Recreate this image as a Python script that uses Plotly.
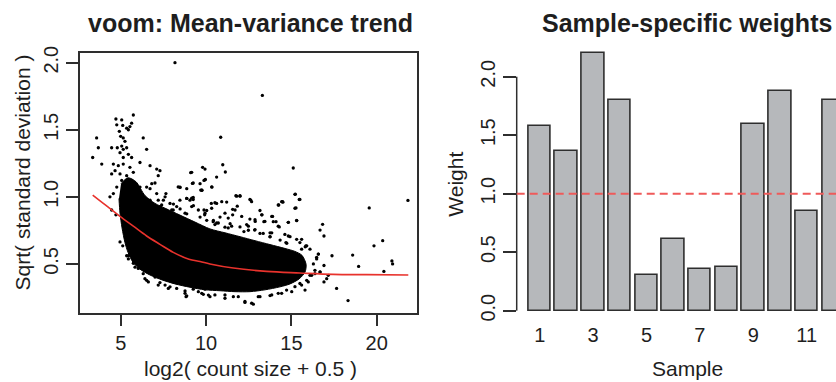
import plotly.graph_objects as go

# ---------------- Left panel: voom mean-variance trend ----------------
# outline of the fully dense part of the point cloud
cloud_x = [5.02, 5.43, 5.90, 6.42, 7.01, 7.60, 8.47, 9.35, 10.23, 11.11, 11.99, 12.87,
           13.75, 14.63, 15.21, 15.62, 15.86, 15.80, 15.45, 14.92, 14.33, 13.46, 12.57,
           11.70, 10.82, 9.94, 9.06, 8.18, 7.42, 6.72, 6.13, 5.72, 5.43, 5.25, 5.08,
           4.96, 4.90]
cloud_y = [1.098, 1.142, 1.112, 1.010, 0.951, 0.915, 0.864, 0.812, 0.761, 0.732, 0.703,
           0.673, 0.644, 0.615, 0.593, 0.564, 0.498, 0.439, 0.388, 0.351, 0.329, 0.307,
           0.293, 0.293, 0.300, 0.307, 0.326, 0.351, 0.381, 0.417, 0.461, 0.512, 0.586,
           0.659, 0.768, 0.878, 0.988]

# individual (sparse) genes
gene_x = [8.18, 13.3, 10.86, 15.11, 21.83, 19.56, 15.23, 15.46, 14.5, 15.27, 15.31, 14.82,
          14.26, 14.49, 12.62, 11.75, 11.99, 11.83, 11.56, 10.31, 10.62, 11.21, 9.88, 11.56,
          13.16, 13.28, 13.9, 13.39, 13.94, 14.1, 12.57, 12.38, 12.88, 14.29, 16.83, 16.68,
          16.91, 20.35, 19.84, 15.81, 14.68, 13.75, 13.75, 12.85, 13.35, 12.22, 11.11, 11.3,
          10.04, 10.42, 10.62, 9.92, 9.80, 10.98, 11.13, 10.62, 9.96, 10.35, 9.76,
          17.38, 18.59, 18.94, 20.89, 20.93, 20.42, 17.65, 18.32, 16.58, 16.48, 16.91, 16.68,
          17.07, 16.91, 17.16,
          4.72, 5.06, 5.74, 4.77, 5.12, 5.35, 5.54, 5.45, 5.64, 4.92, 5.15, 5.0, 5.25, 5.06,
          4.8, 5.15, 5.35, 4.96, 5.45, 5.15, 5.64, 4.57, 4.86, 5.15, 5.54, 4.67, 4.96, 5.35,
          5.74, 5.06, 5.35, 5.64, 4.77, 4.47, 4.47, 6.32, 6.52, 3.59, 3.69, 3.36, 3.89, 6.13,
          6.72, 7.3, 7.11, 7.2, 4.57, 4.37, 6.13, 6.52, 6.82, 7.65, 8.47, 9.16, 9.94, 9.65,
          9.88, 8.87, 9.06, 9.25,
          4.47, 4.72, 4.96, 5.12, 5.35, 5.45, 5.74, 6.03, 6.32, 6.52, 7.01, 7.30, 7.60, 7.89,
          8.28, 8.77, 8.83, 9.25, 9.55, 9.94, 10.14,
          9.84, 10.23, 11.11, 11.6, 12.28, 12.77, 13.16, 13.75, 14.23, 14.72, 15.21, 15.5,
          15.9, 16.09, 16.38, 16.68, 16.29, 16.48, 16.58, 16.09, 15.85, 15.5, 15.31, 14.92,
          14.62, 15.8,
          7.11, 7.5, 7.89, 8.28, 6.72, 6.32, 7.3, 8.08, 8.47,
          7.7, 8.09, 8.48, 8.87, 9.26, 9.65, 10.04, 10.43, 10.82, 11.41, 11.99, 12.48, 13.16,
          13.75, 14.34, 14.73,
          8.48, 9.2, 9.16, 9.69, 9.1,
          # halo above the dense cloud
          8.37, 8.87, 9.25, 9.94, 10.33, 9.75, 7.01, 6.72, 7.60, 8.87, 9.25, 10.52, 10.92,
          11.80, 11.99, 12.57, 12.67, 14.23, 14.43, 15.21, 15.50, 15.21, 14.82, 15.31, 13.85,
          14.23, 13.26, 13.45, 12.87, 12.48, 12.09, 11.70, 11.30, 11.11, 10.72, 10.33, 9.94,
          9.55, 9.16, 8.77, 8.37, 7.99, 7.79, 7.40, 7.20, 7.01, 10.52, 11.50, 12.87, 13.85,
          14.82, 15.6, 15.9, 15.6,
          # halo below the dense cloud
          5.45, 5.84, 6.42, 6.62, 7.20, 7.79, 8.77, 8.87, 9.75, 10.52, 11.11, 11.89, 12.28,
          12.67, 13.06, 13.85, 14.43, 15.02, 15.6, 15.99, 16.19, 16.38]
gene_y = [2.0, 1.756, 1.444, 1.215, 0.973, 0.917, 1.02, 0.98, 0.96, 0.917, 0.825, 0.81,
          0.939, 0.964, 0.976, 1.008, 1.008, 0.93, 0.907, 0.951, 0.951, 0.961, 0.902, 0.866,
          0.898, 0.866, 0.854, 0.815, 0.815, 0.815, 0.834, 0.793, 0.817, 0.776, 0.795, 0.752,
          0.708, 0.673, 0.635, 0.627, 0.659, 0.732, 0.703, 0.752, 0.727, 0.741, 0.774, 0.768,
          0.825, 0.815, 0.805, 0.866, 1.22, 1.239, 1.185, 1.147, 1.13, 1.073, 1.049,
          0.561, 0.566, 0.481, 0.522, 0.5, 0.444, 0.317, 0.227, 0.573, 0.537, 0.488, 0.44,
          0.39, 0.366, 0.415,
          1.58, 1.573, 1.61, 1.537, 1.532, 1.512, 1.524, 1.5, 1.549, 1.488, 1.439, 1.451,
          1.414, 1.378, 1.366, 1.354, 1.366, 1.329, 1.317, 1.293, 1.293, 1.244, 1.232, 1.244,
          1.22, 1.195, 1.171, 1.158, 1.183, 1.122, 1.098, 1.122, 1.073, 1.171, 1.366, 1.439,
          1.354, 1.439, 1.366, 1.293, 1.244, 1.256, 1.232, 1.195, 1.207, 1.158, 1.024, 1.0,
          1.073, 1.073, 1.098, 1.024, 1.073, 1.183, 1.207, 1.098, 1.122, 0.988, 0.975, 0.98,
          0.902, 0.866, 0.664, 0.635, 0.561, 0.537, 0.505, 0.466, 0.427, 0.378, 0.402, 0.361,
          0.342, 0.329, 0.317, 0.298, 0.256, 0.312, 0.293, 0.312, 0.268,
          0.273, 0.256, 0.244, 0.256, 0.213, 0.2, 0.256, 0.264, 0.281, 0.305, 0.33, 0.354,
          0.378, 0.415, 0.452, 0.439, 0.5, 0.549, 0.573, 0.61, 0.634, 0.659, 0.683, 0.703,
          0.72, 0.305,
          1.024, 0.975, 0.951, 0.927, 0.975, 1.0, 0.927, 0.902, 0.975,
          0.898, 0.946, 0.91, 0.873, 0.934, 0.849, 0.898, 0.824, 0.849, 0.8, 0.776, 0.751,
          0.727, 0.702, 0.678, 0.654,
          1.07, 1.1, 0.99, 1.05, 1.18,
          # halo above the dense cloud
          1.074, 1.061, 1.103, 1.127, 1.074, 1.049, 1.103, 1.061, 1.0, 0.988, 0.995, 0.956,
          0.964, 1.005, 1.005, 0.981, 0.964, 0.939, 0.964, 1.019, 0.981, 0.915, 0.81, 0.822,
          0.854, 0.781, 0.866, 0.817, 0.829, 0.781, 0.854, 0.902, 0.842, 0.878, 0.805, 0.915,
          0.878, 0.902, 0.927, 0.878, 0.854, 0.902, 0.854, 0.939, 0.975, 0.902, 0.793, 0.781,
          0.756, 0.732, 0.708, 0.683, 0.635, 0.61,
          # halo below the dense cloud
          0.561, 0.476, 0.39, 0.366, 0.342, 0.317, 0.281, 0.262, 0.281, 0.269, 0.269, 0.256,
          0.22, 0.207, 0.256, 0.269, 0.281, 0.293, 0.342, 0.366, 0.415, 0.427]

# lowess trend line
trend_x = [3.36, 3.98, 4.96, 5.74, 6.52, 7.30, 8.08, 9.0, 9.65, 10.23, 11.6, 13.55,
           15.5, 17.45, 19.41, 21.85]
trend_y = [1.012, 0.951, 0.854, 0.781, 0.708, 0.646, 0.586, 0.535, 0.518, 0.50, 0.469,
           0.444, 0.432, 0.422, 0.42, 0.417]

mv_x_ticks = [5, 10, 15, 20]
mv_y_ticks = [0.5, 1.0, 1.5, 2.0]
mv_y_ticktext = ["0.5", "1.0", "1.5", "2.0"]

# ---------------- Right panel: sample-specific weights ----------------
samples = list(range(1, 13))
weights = [1.575, 1.365, 2.199, 1.799, 0.307, 0.615, 0.352, 0.372, 1.597, 1.88, 0.853, 1.799]
sample_tick_vals = [1, 3, 5, 7, 9, 11]
sample_tick_text = ["1", "3", "5", "7", "9", "11"]
weight_ticks = [0, 0.5, 1.0, 1.5, 2.0]
weight_ticktext = ["0.0", "0.5", "1.0", "1.5", "2.0"]
ref_weight = 1.0

FONT = "Liberation Sans, Arial, Helvetica, sans-serif"
INK = "#1e1e1e"
LINE = "#2e2e2e"

fig = go.Figure()

fig.add_trace(go.Scatter(x=cloud_x, y=cloud_y, mode="lines", fill="toself",
                         fillcolor="black",
                         line=dict(color="black", width=1, shape="spline", smoothing=0.8),
                         hoverinfo="skip", showlegend=False, xaxis="x", yaxis="y"))
fig.add_trace(go.Scatter(x=gene_x, y=gene_y, mode="markers",
                         marker=dict(color="black", size=3.3, line=dict(width=0)),
                         showlegend=False, xaxis="x", yaxis="y"))
fig.add_trace(go.Scatter(x=trend_x, y=trend_y, mode="lines",
                         line=dict(color="#e8322c", width=1.6, shape="spline"),
                         showlegend=False, xaxis="x", yaxis="y"))

fig.add_trace(go.Bar(x=samples, y=weights, width=0.84,
                     marker=dict(color="#b6b8bb", line=dict(color=LINE, width=1.6)),
                     showlegend=False, xaxis="x2", yaxis="y2"))

axis_common = dict(showgrid=False, zeroline=False, ticks="outside", tickcolor=LINE,
                   tickwidth=1.5, tickfont=dict(family=FONT, size=20, color=INK))

fig.update_layout(
    width=836, height=382,
    margin=dict(l=0, r=0, t=0, b=0),
    paper_bgcolor="white", plot_bgcolor="white",
    font=dict(family=FONT, color=INK),
    xaxis=dict(domain=[80/836, 417/836], range=[2.616, 22.36], tickvals=mv_x_ticks,
               ticklen=11, showline=True, linecolor=LINE, linewidth=1.5, mirror=True,
               anchor="y", **axis_common),
    yaxis=dict(domain=[(382-312)/382, (382-47)/382], range=[0.132, 2.071],
               tickvals=mv_y_ticks, ticktext=mv_y_ticktext, tickangle=-90,
               ticklen=12, showline=True, linecolor=LINE, linewidth=1.5, mirror=True,
               anchor="x", **axis_common),
    xaxis2=dict(domain=[516.7/836, 1.0], range=[0.1386, 12.097],
                tickvals=sample_tick_vals, ticktext=sample_tick_text,
                showline=False, anchor="y2", showgrid=False, zeroline=False, ticks="",
                tickfont=dict(family=FONT, size=20, color=INK)),
    yaxis2=dict(domain=[(382-319.8)/382, (382-36.7)/382], range=[-0.088, 2.288],
                tickvals=weight_ticks, ticktext=weight_ticktext, tickangle=-90,
                ticklen=13, showline=False, anchor="x2", **axis_common),
    bargap=0,
)

# y-axis line of the barplot spans only the labelled ticks
fig.add_shape(type="line", xref="x2 domain", yref="y2", x0=0, x1=0,
              y0=weight_ticks[0], y1=weight_ticks[-1], line=dict(color=LINE, width=1.5))
# reference line at weight 1
fig.add_shape(type="line", xref="x2 domain", yref="y2", x0=0, x1=1,
              y0=ref_weight, y1=ref_weight, line=dict(color="#ef5a5a", width=2, dash="8px,5px"))

ann = [
    dict(text="<b>voom: Mean-variance trend</b>", x=250/836, y=1-16/382, size=25, angle=0),
    dict(text="<b>Sample-specific weights</b>", x=686.5/836, y=1-16/382, size=25, angle=0),
    dict(text="log2( count size + 0.5 )", x=250.5/836, y=1-368/382, size=21, angle=0),
    dict(text="Sample", x=687/836, y=1-368/382, size=21, angle=0),
    dict(text="Sqrt( standard deviation )", x=22.5/836, y=1-169/382, size=21, angle=-90),
    dict(text="Weight", x=456/836, y=1-180/382, size=21, angle=-90),
]
for a in ann:
    fig.add_annotation(text=a["text"], x=a["x"], y=a["y"], xref="paper", yref="paper",
                       xanchor="center", yanchor="middle", showarrow=False,
                       textangle=a["angle"], font=dict(family=FONT, size=a["size"], color=INK))

fig.write_html("out.html", config={"displayModeBar": False},
               post_script="document.body.style.margin='0';document.body.style.overflow='hidden';")
